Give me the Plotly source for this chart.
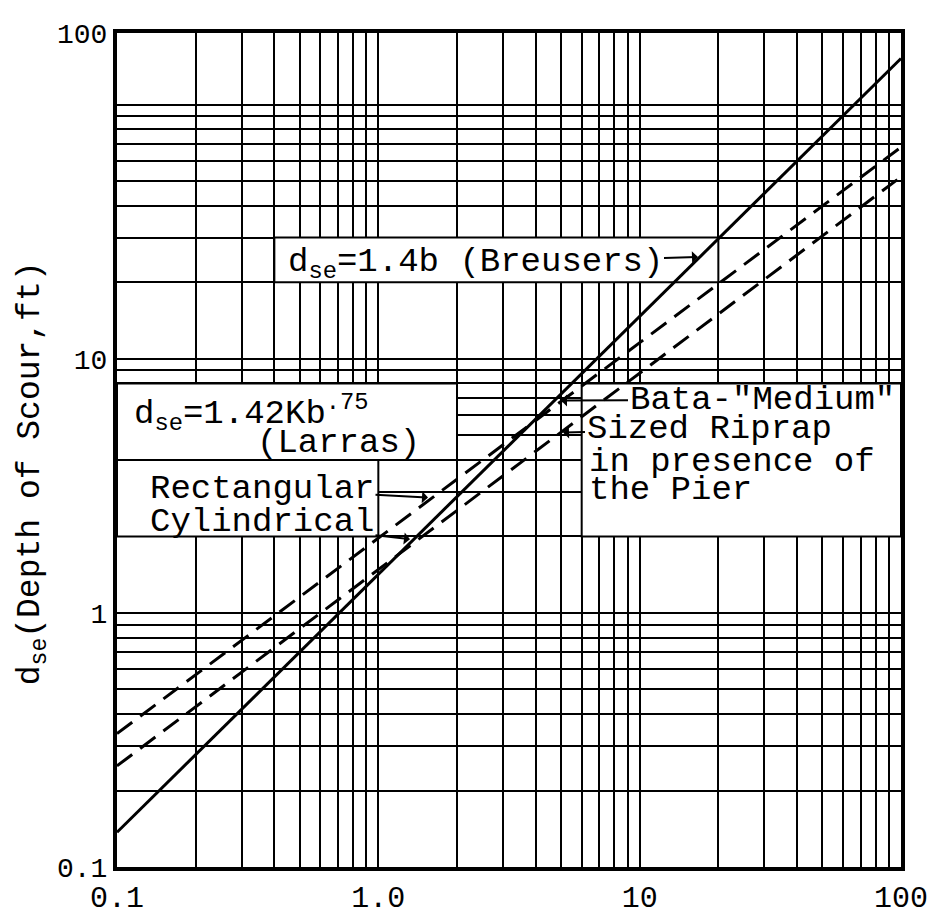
import math
import plotly.graph_objects as go

# ---------------- data ----------------
# Breusers: d_se = 1.4 b  (solid)
b_breusers = [0.1, 100]
d_breusers = [0.137, 152]
# Larras, rectangular pier (upper dashed)
b_rect = [0.1, 100]
d_rect = [0.335, 68]
# Larras, cylindrical pier (lower dashed)
b_cyl = [0.1, 100]
d_cyl = [0.25, 52]

# graph-paper grid values and tick labels
x_grid = [0.1, 0.2, 0.3, 0.4, 0.5, 0.6, 0.7, 0.8, 0.9,
          1, 2, 3, 4, 5, 6, 7, 8, 9,
          10, 20, 30, 40, 50, 60, 70, 80, 90, 100]
x_text = {0.1: "0.1", 1: "1.0", 10: "10", 100: "100"}
Y_TOP_LOG = 2.282          # the sheet runs above the 100 line; its top edge is labelled "100"
y_grid = [0.1, 0.2, 0.3, 0.4, 0.5, 0.6, 0.7, 0.8, 0.9,
          1, 2, 3, 4, 5, 6, 7, 8, 9,
          10, 20, 30, 40, 50, 60, 70, 80, 90, 100]
y_text = {0.1: "0.1", 1: "1", 10: "10"}
y_top_label = "100"

FONT = "Liberation Mono, Courier New, monospace"

# ---------------- figure ----------------
fig = go.Figure()
fig.add_trace(go.Scatter(x=b_breusers, y=d_breusers, mode="lines",
                         line=dict(color="black", width=3),
                         name="Breusers", showlegend=False))
fig.add_trace(go.Scatter(x=b_rect, y=d_rect, mode="lines",
                         line=dict(color="black", width=3, dash="19px,10px"),
                         name="Rectangular", showlegend=False))
fig.add_trace(go.Scatter(x=b_cyl, y=d_cyl, mode="lines",
                         line=dict(color="black", width=3, dash="19px,10px"),
                         name="Cylindrical", showlegend=False))

y_top = 10 ** Y_TOP_LOG
y_tickvals = y_grid + [y_top]
y_ticktext = [y_text.get(v, "") for v in y_grid] + [y_top_label]
x_ticktext = [x_text.get(v, "") for v in x_grid]

W, H = 935, 920
L, R, T, B = 109, 893, 18, 878

fig.update_layout(
    width=W, height=H,
    margin=dict(l=L, r=W - R, t=T, b=H - B),
    paper_bgcolor="white", plot_bgcolor="white",
    font=dict(family=FONT, color="black"),
    xaxis=dict(type="log", range=[-1, 2], tickmode="array",
               tickvals=x_grid, ticktext=x_ticktext,
               showgrid=True, gridcolor="black", gridwidth=2,
               showline=True, linecolor="black", linewidth=4, mirror=True,
               ticks="", tickfont=dict(family=FONT, size=30),
               zeroline=False),
    yaxis=dict(type="log", range=[-1, Y_TOP_LOG], tickmode="array",
               tickvals=y_tickvals, ticktext=y_ticktext,
               showgrid=True, gridcolor="black", gridwidth=2,
               showline=True, linecolor="black", linewidth=4, mirror=True,
               ticks="", tickfont=dict(family=FONT, size=28),
               zeroline=False),
)

# white label panels cut out of the graph paper
panels = [
    (0.4, 20, 20, 30),   # Breusers
    (0.1, 2, 4, 8),      # Larras
    (0.1, 1, 2, 4),      # Rectangular / Cylindrical
    (6, 100, 2, 8),      # Bata
]
for x0, x1, y0, y1 in panels:
    fig.add_shape(type="rect", xref="x", yref="y", x0=x0, x1=x1, y0=y0, y1=y1,
                  fillcolor="white", line=dict(color="black", width=2),
                  layer="between")


def px(x):
    return (x - L) / (R - L)


def py(y):
    return (B - y) / (B - T)


def text(x, y, s, size=34, anchor="left"):
    fig.add_annotation(x=px(x), y=py(y), xref="paper", yref="paper",
                       text=s, showarrow=False, xanchor=anchor, yanchor="middle",
                       font=dict(family=FONT, size=size, color="black"))


def text_arrow(cx, cy, tx, ty, s, size=34):
    """Text centred at pixel (cx, cy) with an arrow pointing to pixel (tx, ty)."""
    fig.add_annotation(x=px(tx), y=py(ty), xref="paper", yref="paper",
                       text=s, showarrow=True, ax=cx - tx, ay=cy - ty,
                       arrowhead=1, arrowsize=1, arrowwidth=2, arrowcolor="black",
                       font=dict(family=FONT, size=size, color="black"))


text_arrow(467, 256, 690, 249, "d<sub>se</sub>=1.4b (Breusers)")

text(124, 410, "d<sub>se</sub>=1.42Kb<sup>.75</sup>")
text(247, 441, "(Larras)")
text_arrow(254, 488, 420, 497, "Rectangular")
text_arrow(254, 523, 402, 540, "Cylindrical")

text_arrow(754, 396, 553, 397, "Bata-\"Medium\"")
text_arrow(701, 426, 555, 430, "Sized Riprap")
text(579, 460, "in presence of")
text(579, 489, "the Pier")

fig.add_annotation(x=px(24), y=py(472), xref="paper", yref="paper",
                   text="d<sub>se</sub>(Depth of Scour,ft)", textangle=-90,
                   showarrow=False, xanchor="center", yanchor="middle",
                   font=dict(family=FONT, size=33, color="black"))

fig.write_html("out.html")
